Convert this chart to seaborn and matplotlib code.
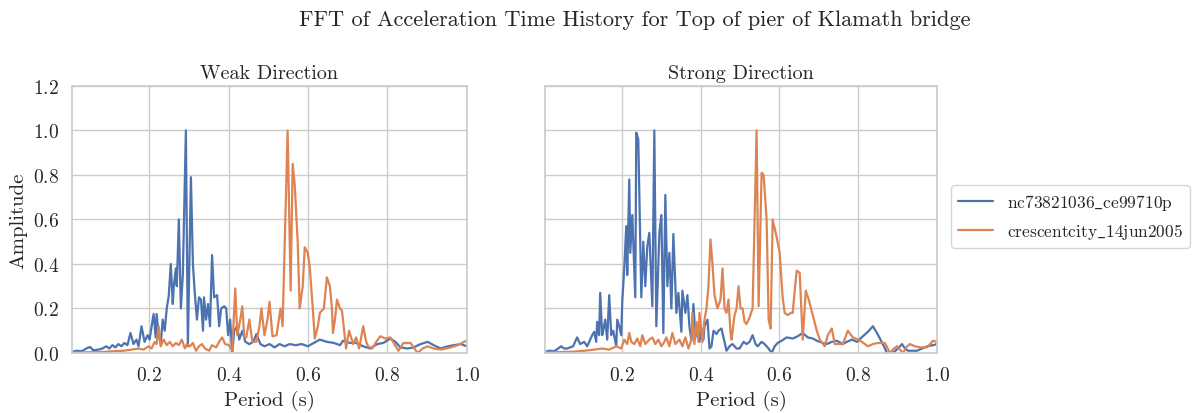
import numpy as np
import pandas as pd
import matplotlib
matplotlib.use("Agg")
import matplotlib.pyplot as plt
import seaborn as sns

# FFT amplitude spectra (normalised) vs. period, top of pier of Klamath bridge
records = ["nc73821036_ce99710p", "crescentcity_14jun2005"]

weak_nc_period = [0.005, 0.0152, 0.0305, 0.0406, 0.0508, 0.0584, 0.0711, 0.0813, 0.0914, 0.0990,
                  0.1067, 0.1143, 0.1219, 0.1295, 0.1371, 0.1448, 0.1524, 0.1600, 0.1676, 0.1727,
                  0.1803, 0.1879, 0.1956, 0.2006, 0.2057, 0.2108, 0.2159, 0.2184, 0.2235, 0.2286,
                  0.2337, 0.2387, 0.2438, 0.2489, 0.2540, 0.2590, 0.2616, 0.2667, 0.2692, 0.2743,
                  0.2794, 0.2844, 0.2921, 0.2971, 0.3048, 0.3098, 0.3149, 0.3200, 0.3251, 0.3302,
                  0.3352, 0.3378, 0.3429, 0.3479, 0.3530, 0.3581, 0.3632, 0.3708, 0.3759, 0.3810,
                  0.3886, 0.3937, 0.3987, 0.4038, 0.4089, 0.4140, 0.4216, 0.4267, 0.4343, 0.4419,
                  0.4521, 0.4622, 0.4698, 0.4800, 0.4902, 0.5029, 0.5156, 0.5283, 0.5410, 0.5537,
                  0.5689, 0.5841, 0.5994, 0.6146, 0.6298, 0.6476, 0.6654, 0.6806, 0.6883, 0.7060,
                  0.7213, 0.7391, 0.7568, 0.7746, 0.7898, 0.8076, 0.8203, 0.8330, 0.8508, 0.8660,
                  0.8838, 0.9016, 0.9168, 0.9346, 0.9524, 0.9676, 0.9854, 1.0]
weak_nc_amp = [0.005, 0.01, 0.008, 0.02, 0.027, 0.012, 0.015, 0.02, 0.03, 0.02,
               0.035, 0.025, 0.04, 0.03, 0.045, 0.035, 0.09, 0.04, 0.06, 0.03,
               0.12, 0.05, 0.08, 0.06, 0.12, 0.175, 0.07, 0.175, 0.08, 0.04,
               0.15, 0.1, 0.2, 0.256, 0.4, 0.22, 0.3, 0.38, 0.3, 0.6,
               0.2, 0.35, 1.0, 0.03, 0.79, 0.4, 0.26, 0.15, 0.25, 0.24,
               0.1, 0.25, 0.15, 0.22, 0.12, 0.44, 0.25, 0.26, 0.12, 0.2,
               0.21, 0.2, 0.08, 0.15, 0.0, 0.1, 0.12, 0.06, 0.1, 0.05,
               0.04, 0.05, 0.085, 0.04, 0.03, 0.04, 0.025, 0.04, 0.03, 0.04,
               0.035, 0.04, 0.03, 0.045, 0.06, 0.05, 0.045, 0.035, 0.055, 0.045,
               0.045, 0.03, 0.02, 0.04, 0.045, 0.065, 0.05, 0.025, 0.02, 0.025,
               0.04, 0.05, 0.035, 0.02, 0.03, 0.035, 0.04, 0.03]

weak_cc_period = [0.005, 0.0457, 0.0838, 0.1092, 0.1346, 0.1549, 0.1727, 0.1854, 0.1981, 0.2057,
                  0.2133, 0.2184, 0.2235, 0.2286, 0.2362, 0.2438, 0.2514, 0.2590, 0.2667, 0.2743,
                  0.2819, 0.2895, 0.2946, 0.3022, 0.3098, 0.3175, 0.3251, 0.3327, 0.3403, 0.3505,
                  0.3581, 0.3683, 0.3759, 0.3835, 0.3911, 0.4013, 0.4089, 0.4165, 0.4216, 0.4292,
                  0.4343, 0.4394, 0.4444, 0.4521, 0.4597, 0.4698, 0.4775, 0.4825, 0.4902, 0.4978,
                  0.5029, 0.5105, 0.5206, 0.5308, 0.5359, 0.5486, 0.5562, 0.5613, 0.5663, 0.5740,
                  0.5790, 0.5867, 0.5917, 0.5994, 0.6044, 0.6121, 0.6171, 0.6248, 0.6298, 0.6400,
                  0.6476, 0.6552, 0.6603, 0.6629, 0.6679, 0.6730, 0.6806, 0.6857, 0.6959, 0.7035,
                  0.7137, 0.7213, 0.7289, 0.7391, 0.7467, 0.7517, 0.7619, 0.7721, 0.7822, 0.7949,
                  0.8076, 0.8178, 0.8279, 0.8406, 0.8584, 0.8762, 0.8889, 0.9016, 0.9168, 0.9346,
                  0.9473, 0.9600, 0.9778, 0.9930, 1.0]
weak_cc_amp = [0.002, 0.003, 0.005, 0.008, 0.01, 0.015, 0.02, 0.015, 0.03, 0.02,
               0.05, 0.04, 0.12, 0.03, 0.06, 0.035, 0.05, 0.03, 0.045, 0.035,
               0.06, 0.02, 0.04, 0.03, 0.045, 0.01, 0.03, 0.04, 0.02, 0.01,
               0.035, 0.025, 0.05, 0.07, 0.04, 0.035, 0.01, 0.29, 0.08, 0.15,
               0.21, 0.07, 0.07, 0.15, 0.05, 0.05, 0.12, 0.2, 0.08, 0.15,
               0.23, 0.075, 0.08, 0.2, 0.12, 1.0, 0.28, 0.85, 0.76, 0.5,
               0.2, 0.3, 0.475, 0.45, 0.385, 0.2, 0.065, 0.12, 0.18, 0.2,
               0.34, 0.3, 0.2, 0.09, 0.15, 0.24, 0.2, 0.19, 0.02, 0.1,
               0.04, 0.07, 0.02, 0.12, 0.05, 0.03, 0.02, 0.05, 0.075, 0.065,
               0.07, 0.04, 0.01, 0.045, 0.045, 0.0, 0.02, 0.03, 0.02, 0.015,
               0.02, 0.025, 0.035, 0.05, 0.055]

strong_nc_period = [0.005, 0.0153, 0.0280, 0.0382, 0.0458, 0.0534, 0.0611, 0.0687, 0.0763, 0.0865,
                    0.0941, 0.1043, 0.1120, 0.1196, 0.1247, 0.1298, 0.1349, 0.1374, 0.1425, 0.1450,
                    0.1501, 0.1527, 0.1578, 0.1628, 0.1679, 0.1730, 0.1781, 0.1858, 0.1883, 0.1934,
                    0.1985, 0.2010, 0.2061, 0.2112, 0.2137, 0.2188, 0.2214, 0.2265, 0.2341, 0.2366,
                    0.2417, 0.2494, 0.2545, 0.2595, 0.2646, 0.2697, 0.2774, 0.2824, 0.2875, 0.2952,
                    0.3003, 0.3053, 0.3104, 0.3155, 0.3206, 0.3257, 0.3308, 0.3384, 0.3435, 0.3511,
                    0.3537, 0.3613, 0.3664, 0.3715, 0.3766, 0.3817, 0.3868, 0.3919, 0.3969, 0.4020,
                    0.4071, 0.4097, 0.4173, 0.4224, 0.4275, 0.4326, 0.4402, 0.4453, 0.4529, 0.4606,
                    0.4656, 0.4733, 0.4809, 0.4911, 0.4987, 0.5089, 0.5165, 0.5242, 0.5318, 0.5394,
                    0.5445, 0.5547, 0.5623, 0.5725, 0.5802, 0.5878, 0.5954, 0.6056, 0.6183, 0.6336,
                    0.6463, 0.6590, 0.6718, 0.6845, 0.6947, 0.7099, 0.7201, 0.7328, 0.7455, 0.7608,
                    0.7710, 0.7837, 0.7964, 0.8117, 0.8244, 0.8372, 0.8473, 0.8550, 0.8651, 0.8728,
                    0.8880, 0.9008, 0.9109, 0.9186, 0.9262, 0.9389, 0.9491, 0.9618, 0.9746, 0.9898,
                    1.0]
strong_nc_amp = [0.005, 0.01, 0.008, 0.02, 0.03, 0.02, 0.02, 0.025, 0.03, 0.07,
                 0.04, 0.05, 0.03, 0.06, 0.08, 0.095, 0.05, 0.14, 0.08, 0.27,
                 0.08, 0.1, 0.15, 0.06, 0.26, 0.08, 0.1, 0.03, 0.15, 0.12,
                 0.08, 0.23, 0.38, 0.57, 0.35, 0.78, 0.45, 0.62, 0.25, 0.99,
                 0.96, 0.25, 0.5, 0.3, 0.48, 0.54, 0.21, 1.0, 0.12, 0.54,
                 0.62, 0.09, 0.71, 0.3, 0.45, 0.2, 0.535, 0.18, 0.27, 0.095,
                 0.28, 0.18, 0.26, 0.12, 0.055, 0.22, 0.07, 0.12, 0.05, 0.11,
                 0.06, 0.12, 0.15, 0.02, 0.03, 0.1, 0.085, 0.1, 0.11, 0.05,
                 0.01, 0.03, 0.04, 0.02, 0.02, 0.05, 0.04, 0.05, 0.08, 0.04,
                 0.03, 0.05, 0.04, 0.02, 0.0, 0.03, 0.045, 0.055, 0.07, 0.065,
                 0.075, 0.09, 0.07, 0.065, 0.055, 0.045, 0.04, 0.05, 0.055, 0.04,
                 0.05, 0.06, 0.05, 0.075, 0.095, 0.12, 0.09, 0.065, 0.03, 0.0,
                 0.0, 0.02, 0.04, 0.02, 0.01, 0.01, 0.01, 0.02, 0.03, 0.035,
                 0.04]

strong_cc_period = [0.005, 0.0407, 0.0789, 0.1043, 0.1298, 0.1501, 0.1679, 0.1858, 0.1985, 0.2061,
                    0.2137, 0.2188, 0.2239, 0.2316, 0.2392, 0.2468, 0.2519, 0.2595, 0.2697, 0.2774,
                    0.2850, 0.2926, 0.3003, 0.3079, 0.3130, 0.3206, 0.3282, 0.3359, 0.3461, 0.3537,
                    0.3613, 0.3690, 0.3766, 0.3791, 0.3842, 0.3893, 0.3944, 0.3969, 0.4046, 0.4097,
                    0.4148, 0.4198, 0.4249, 0.4300, 0.4351, 0.4427, 0.4504, 0.4555, 0.4606, 0.4656,
                    0.4707, 0.4758, 0.4784, 0.4860, 0.4911, 0.4962, 0.5013, 0.5064, 0.5115, 0.5165,
                    0.5242, 0.5318, 0.5420, 0.5471, 0.5547, 0.5598, 0.5674, 0.5725, 0.5776, 0.5827,
                    0.5929, 0.6005, 0.6081, 0.6132, 0.6209, 0.6285, 0.6336, 0.6387, 0.6438, 0.6514,
                    0.6590, 0.6667, 0.6743, 0.6845, 0.6947, 0.7023, 0.7150, 0.7226, 0.7328, 0.7405,
                    0.7481, 0.7608, 0.7735, 0.7863, 0.7990, 0.8092, 0.8244, 0.8372, 0.8499, 0.8677,
                    0.8804, 0.8906, 0.8982, 0.9135, 0.9237, 0.9313, 0.9440, 0.9567, 0.9746, 0.9898,
                    1.0]
strong_cc_amp = [0.002, 0.004, 0.006, 0.01, 0.015, 0.02, 0.015, 0.03, 0.02, 0.06,
                 0.04, 0.09, 0.05, 0.04, 0.065, 0.03, 0.08, 0.04, 0.06, 0.07,
                 0.04, 0.06, 0.03, 0.05, 0.07, 0.03, 0.09, 0.04, 0.06, 0.03,
                 0.07, 0.02, 0.06, 0.18, 0.04, 0.14, 0.05, 0.18, 0.05, 0.15,
                 0.2, 0.3, 0.51, 0.4, 0.26, 0.2, 0.24, 0.38, 0.2, 0.18,
                 0.24, 0.09, 0.06, 0.17, 0.2, 0.3, 0.2, 0.2, 0.14, 0.13,
                 0.16, 0.2, 1.0, 0.21, 0.81, 0.8, 0.6, 0.15, 0.11, 0.6,
                 0.52, 0.45, 0.25, 0.18, 0.17, 0.18, 0.18, 0.28, 0.37, 0.36,
                 0.06, 0.28, 0.24, 0.17, 0.1, 0.06, 0.03, 0.08, 0.11, 0.04,
                 0.04, 0.04, 0.1, 0.07, 0.06, 0.05, 0.03, 0.04, 0.045, 0.045,
                 0.0, 0.02, 0.03, 0.0, 0.03, 0.04, 0.03, 0.025, 0.025, 0.055,
                 0.05]

directions = ["Weak Direction", "Strong Direction"]
x_ticks = [0.2, 0.4, 0.6, 0.8, 1.0]
y_ticks = [0.0, 0.2, 0.4, 0.6, 0.8, 1.0, 1.2]


def frame(period, amp, record, direction):
    return pd.DataFrame({"Period": period, "Amplitude": amp,
                         "record": record, "direction": direction})


def tex_label(name):
    # Computer Modern roman with an escaped underscore, as LaTeX would set it
    return r"$\mathrm{" + name.replace("_", r"}\_\mathrm{") + "}$"


df = pd.concat([
    frame(weak_nc_period, weak_nc_amp, records[0], directions[0]),
    frame(weak_cc_period, weak_cc_amp, records[1], directions[0]),
    frame(strong_nc_period, strong_nc_amp, records[0], directions[1]),
    frame(strong_cc_period, strong_cc_amp, records[1], directions[1]),
], ignore_index=True)

sns.set_theme(style="whitegrid", context="notebook")
plt.rcParams["font.family"] = ["cmr10", "DejaVu Serif"]
plt.rcParams["mathtext.fontset"] = "cm"
plt.rcParams["axes.formatter.use_mathtext"] = True

fig = plt.figure(figsize=(11.96, 4.14), dpi=100)
ax1 = fig.add_axes([0.0602, 0.145, 0.330, 0.645])
ax2 = fig.add_axes([0.4557, 0.145, 0.3278, 0.645], sharey=ax1)
palette = sns.color_palette("deep", 2)

for ax, direction in zip([ax1, ax2], directions):
    sub = df[df["direction"] == direction]
    sns.lineplot(data=sub, x="Period", y="Amplitude", hue="record",
                 hue_order=records, palette=palette, estimator=None,
                 linewidth=1.6, ax=ax)
    ax.set_title(direction, fontsize=14.5)
    ax.set_xlim(0.005, 1.0)
    ax.set_ylim(0.0, 1.2)
    ax.set_xticks(x_ticks)
    ax.set_yticks(y_ticks)
    ax.set_xlabel("Period (s)", fontsize=15)
    ax.tick_params(labelsize=14)
    ax.get_legend().remove()

ax1.set_ylabel("Amplitude", fontsize=15)
ax2.set_ylabel("")
plt.setp(ax2.get_yticklabels(), visible=False)

handles, labels = ax1.get_legend_handles_labels()
fig.legend(handles, [tex_label(l) for l in labels], loc="center left",
           bbox_to_anchor=(0.788, 0.475), fontsize=12.5, frameon=True)
fig.suptitle("FFT of Acceleration Time History for Top of pier of Klamath bridge",
             fontsize=16, x=0.531, y=0.975)

fig.savefig("out.png", dpi=100)
